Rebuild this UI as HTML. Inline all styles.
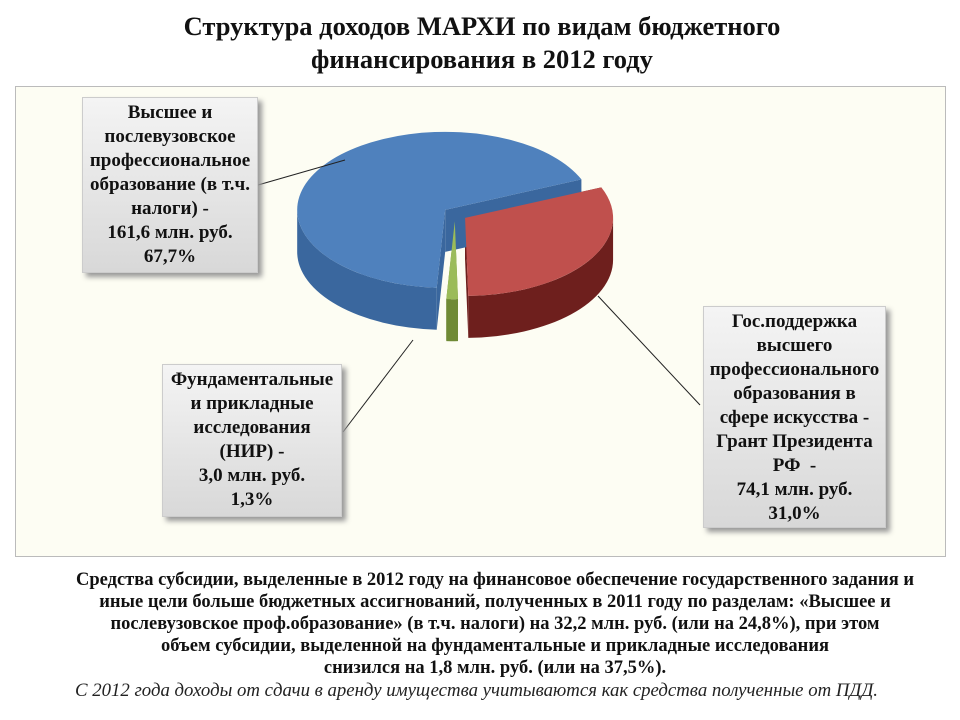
<!DOCTYPE html>
<html><head><meta charset="utf-8"><style>
body{margin:0;width:960px;height:720px;background:#fff;font-family:"Liberation Serif","Noto Serif CJK SC",serif;position:relative;overflow:hidden}
.t{position:absolute;left:2px;width:960px;text-align:center;font-weight:bold;font-size:26.5px;line-height:33px;color:#111}
.frame{position:absolute;left:15px;top:86px;width:929px;height:469px;border:1px solid #bbb;background:#fdfdf3}
.box{position:absolute;background:linear-gradient(#f4f4f4,#d8d8d8);border:1px solid #ccc;box-shadow:4px 4px 5px #999;text-align:center;font-weight:bold;font-size:19px;line-height:24px;color:#111;box-sizing:border-box;padding-top:3px;white-space:nowrap}
.p{position:absolute;left:15px;width:960px;text-align:center;font-weight:bold;font-size:18.5px;line-height:22px;color:#111}
</style></head><body>
<div class="t" style="top:10px">Структура доходов МАРХИ по видам бюджетного<br>финансирования в 2012 году</div>
<div class="frame"></div>
<svg id="pie" width="960" height="720" style="position:absolute;left:0;top:0"></svg>
<div class="box" style="left:82px;top:97px;width:176px;height:176px">Высшее и<br>послевузовское<br>профессиональное<br>образование (в т.ч.<br>налоги) -<br>161,6 млн. руб.<br>67,7%</div>
<div class="box" style="left:162px;top:364px;width:180px;height:153px">Фундаментальные<br>и прикладные<br>исследования<br>(НИР) -<br>3,0 млн. руб.<br>1,3%</div>
<div class="box" style="left:703px;top:306px;width:183px;height:222px">Гос.поддержка<br>высшего<br>профессионального<br>образования в<br>сфере искусства -<br>Грант Президента<br>РФ &nbsp;-<br>74,1 млн. руб.<br>31,0%</div>
<div class="p" style="top:569px">Средства субсидии, выделенные в 2012 году на финансовое обеспечение государственного задания и<br>иные цели больше бюджетных ассигнований, полученных в 2011 году по разделам: «Высшее и<br>послевузовское проф.образование» (в т.ч. налоги) на 32,2 млн. руб. (или на 24,8%), при этом<br>объем субсидии, выделенной на фундаментальные и прикладные исследования<br>снизился на 1,8 млн. руб. (или на 37,5%).</div>
<div style="position:absolute;left:75px;top:680px;font-style:italic;font-size:18.8px;color:#222;white-space:nowrap">С 2012 года доходы от сдачи в аренду имущества учитываются как средства полученные от ПДД.</div>
<script>
const categories=["Гос.поддержка (Грант Президента РФ)","НИР","Высшее и послевузовское"];
const values=[74.1,3.0,161.6];
const tops=["#c0504d","#9bbb59","#4f81bd"];
const sides=["#6e1f1d","#6f8a35","#3a679e"];
const svg=document.getElementById('pie');const NS='http://www.w3.org/2000/svg';
const cx=455,cy=214,rx=148,ry=78,depth=42,ex=12,start=-23;
const total=values.reduce((a,b)=>a+b,0);
function pt(c,a,dy){const r=a*Math.PI/180;return [c[0]+rx*Math.cos(r),c[1]+ry*Math.sin(r)+(dy||0)];}
function mk(d,f,name){const p=document.createElementNS(NS,'path');p.setAttribute('d',d);p.setAttribute('fill',f);


svg.appendChild(p);}
let a=start;const sl=[];
values.forEach((v,i)=>{const s=a,e=a+v/total*360;a=e;const m=(s+e)/2*Math.PI/180;
sl.push({s,e,c:[cx+ex*Math.cos(m),cy+ex*0.6*Math.sin(m)],i});});
sl.forEach(o=>{const c=o.c;
[o.s,o.e].forEach(an=>{const p=pt(c,an);mk(`M${c[0]},${c[1]}L${p[0]},${p[1]}L${p[0]},${p[1]+depth}L${c[0]},${c[1]+depth}Z`,sides[o.i],'slice-cut-face');});
const s=Math.max(o.s,0),e=Math.min(o.e,180);
if(e>s){const p1=pt(c,s),p2=pt(c,e);mk(`M${p1[0]},${p1[1]}A${rx},${ry} 0 0 1 ${p2[0]},${p2[1]}L${p2[0]},${p2[1]+depth}A${rx},${ry} 0 0 0 ${p1[0]},${p1[1]+depth}Z`,sides[o.i],'slice-side');}
});
sl.forEach(o=>{const c=o.c,p1=pt(c,o.s),p2=pt(c,o.e);const large=(o.e-o.s)>180?1:0;
mk(`M${c[0]},${c[1]}L${p1[0]},${p1[1]}A${rx},${ry} 0 ${large} 1 ${p2[0]},${p2[1]}Z`,tops[o.i],'slice-top');});
[[258,185,345,160],[343,432,413,340],[700,405,598,296]].forEach(l=>{const e=document.createElementNS(NS,'line');
e.setAttribute('x1',l[0]);e.setAttribute('y1',l[1]);e.setAttribute('x2',l[2]);e.setAttribute('y2',l[3]);e.setAttribute('stroke','#222');


svg.appendChild(e);});
</script>
</body></html>
